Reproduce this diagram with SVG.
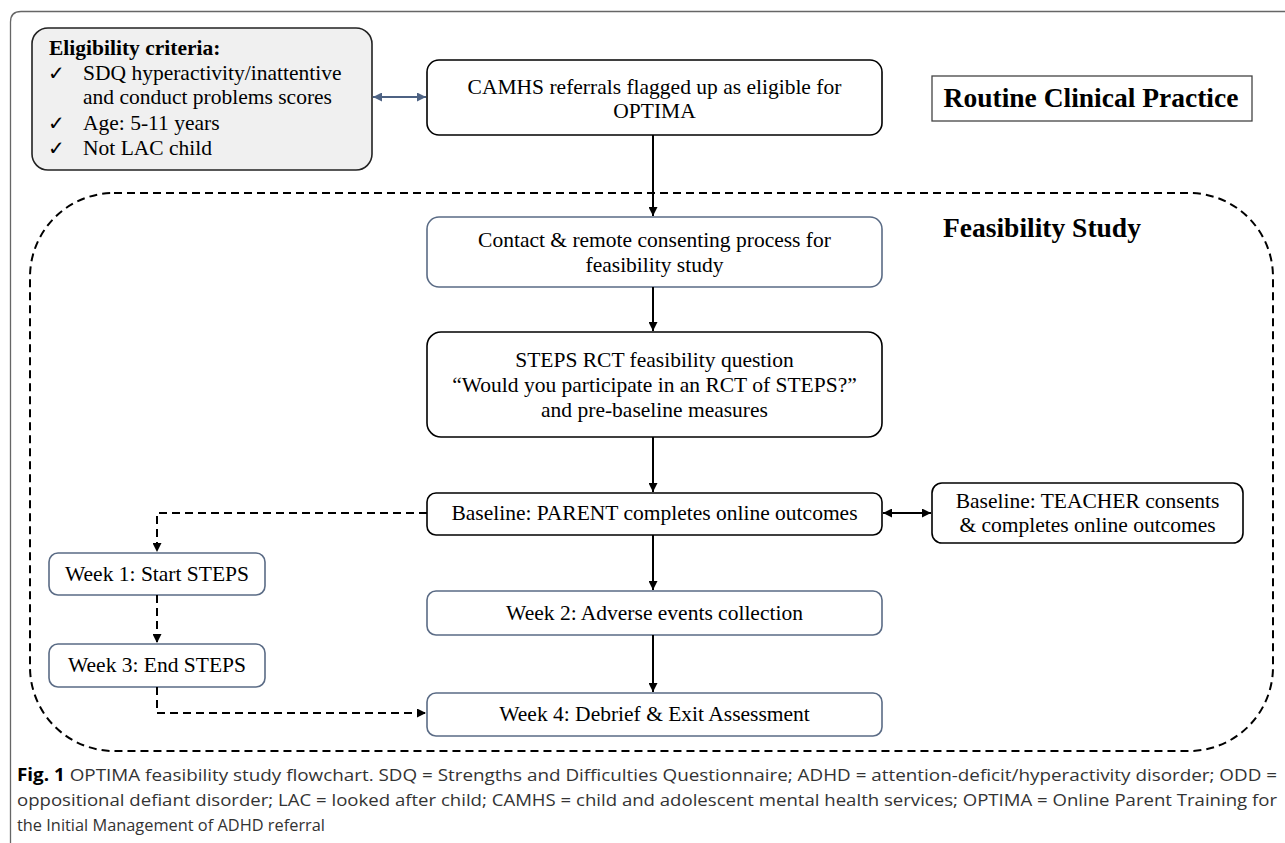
<svg xmlns="http://www.w3.org/2000/svg" width="1285" height="843" viewBox="0 0 1285 843">
<defs>
<marker id="ah" viewBox="0 0 10 10" refX="10" refY="5" markerWidth="9" markerHeight="9" markerUnits="userSpaceOnUse" orient="auto-start-reverse"><path d="M0,0 L10,5 L0,10 Z" fill="#000"/></marker>
<marker id="ahb" viewBox="0 0 10 10" refX="10" refY="5" markerWidth="9" markerHeight="9" markerUnits="userSpaceOnUse" orient="auto-start-reverse"><path d="M0,0 L10,5 L0,10 Z" fill="#4d6283"/></marker>
<style>
.t{font-family:"Liberation Serif","Times New Roman",serif;font-size:21.5px;fill:#000}
.tc{text-anchor:middle}
.b{font-weight:bold}
.h{font-size:27.5px}
.ck{font-family:"DejaVu Sans",sans-serif;font-size:20px}
.bx{fill:#fff;stroke:#000;stroke-width:1.6}
.bs{fill:#fff;stroke:#5a6b85;stroke-width:1.6}
.c{fill:none;stroke:#000;stroke-width:2}
.d{fill:none;stroke:#000;stroke-width:2;stroke-dasharray:8,5}
.cap{font-family:"Open Sans","Noto Sans",sans-serif;font-size:17px;fill:#333}
</style>
</defs>
<path d="M10.5,843 V22 Q10.5,11.5 21,11.5 H1285" fill="none" stroke="#666" stroke-width="1.3"/>
<rect x="30" y="193" width="1243" height="558" rx="84" ry="84" fill="none" stroke="#000" stroke-width="2" stroke-dasharray="8,5"/>

<g id="eligibility">
<rect x="32" y="28" width="340" height="142" rx="16" fill="#f0f0f0" stroke="#222" stroke-width="1.6"/>
<text class="t b" x="49" y="55">Eligibility criteria:</text>
<text class="t ck" x="48" y="80">✓</text>
<text class="t" x="83" y="80">SDQ hyperactivity/inattentive</text>
<text class="t" x="83" y="104">and conduct problems scores</text>
<text class="t ck" x="48" y="130">✓</text>
<text class="t" x="83" y="130">Age: 5-11 years</text>
<text class="t ck" x="48" y="155">✓</text>
<text class="t" x="83" y="155">Not LAC child</text>
</g>

<g id="camhs">
<rect class="bx" x="427" y="60" width="455" height="75" rx="12"/>
<text class="t tc" x="654.5" y="94">CAMHS referrals flagged up as eligible for</text>
<text class="t tc" x="654.5" y="118">OPTIMA</text>
</g>

<g id="routine">
<rect x="932" y="76" width="320" height="45" fill="#fff" stroke="#444" stroke-width="1.3"/>
<text class="t tc b h" x="1091" y="107">Routine Clinical Practice</text>
</g>

<g id="feasibility-label">
<text class="t b h" x="943" y="237">Feasibility Study</text>
</g>

<g id="contact">
<rect class="bs" x="427" y="217" width="455" height="70" rx="12"/>
<text class="t tc" x="654.5" y="247">Contact &amp; remote consenting process for</text>
<text class="t tc" x="654.5" y="272">feasibility study</text>
</g>

<g id="steps-question">
<rect class="bx" x="427" y="332" width="455" height="105" rx="14"/>
<text class="t tc" x="654.5" y="367">STEPS RCT feasibility question</text>
<text class="t tc" x="654.5" y="392">“Would you participate in an RCT of STEPS?”</text>
<text class="t tc" x="654.5" y="417">and pre-baseline measures</text>
</g>

<g id="parent">
<rect class="bx" x="427" y="493" width="455" height="42" rx="9"/>
<text class="t tc" x="654.5" y="520">Baseline: PARENT completes online outcomes</text>
</g>

<g id="teacher">
<rect class="bx" x="932" y="483" width="311" height="60" rx="10"/>
<text class="t tc" x="1087.5" y="508">Baseline: TEACHER consents</text>
<text class="t tc" x="1087.5" y="532">&amp; completes online outcomes</text>
</g>

<g id="week1">
<rect class="bs" x="49" y="553" width="216" height="42" rx="9"/>
<text class="t tc" x="157" y="581">Week 1: Start STEPS</text>
</g>

<g id="week3">
<rect class="bs" x="49" y="644" width="216" height="43" rx="9"/>
<text class="t tc" x="157" y="672">Week 3: End STEPS</text>
</g>

<g id="week2">
<rect class="bs" x="427" y="591" width="455" height="44" rx="9"/>
<text class="t tc" x="654.5" y="620">Week 2: Adverse events collection</text>
</g>

<g id="week4">
<rect class="bs" x="427" y="693" width="455" height="43" rx="9"/>
<text class="t tc" x="654.5" y="721">Week 4: Debrief &amp; Exit Assessment</text>
</g>

<g id="connectors">
<line x1="373" y1="97" x2="426" y2="97" stroke="#4d6283" stroke-width="2" marker-start="url(#ahb)" marker-end="url(#ahb)"/>
<line class="c" x1="653" y1="135" x2="653" y2="216" marker-end="url(#ah)"/>
<line class="c" x1="653" y1="287" x2="653" y2="331" marker-end="url(#ah)"/>
<line class="c" x1="653" y1="437" x2="653" y2="492" marker-end="url(#ah)"/>
<line class="c" x1="653" y1="535" x2="653" y2="590" marker-end="url(#ah)"/>
<line class="c" x1="653" y1="635" x2="653" y2="692" marker-end="url(#ah)"/>
<line class="c" x1="883" y1="513" x2="931" y2="513" marker-start="url(#ah)" marker-end="url(#ah)"/>
<path class="d" d="M427,513 H157 V552" marker-end="url(#ah)"/>
<path class="d" d="M157,595 V643" marker-end="url(#ah)"/>
<path class="d" d="M157,687 V713 H426" marker-end="url(#ah)"/>
</g>

<g id="caption">
<text class="cap" x="17" y="781" textLength="1260" lengthAdjust="spacingAndGlyphs"><tspan font-weight="bold" fill="#000">Fig. 1</tspan>  OPTIMA feasibility study flowchart. SDQ = Strengths and Difficulties Questionnaire; ADHD = attention-deficit/hyperactivity disorder; ODD =</text>
<text class="cap" x="17" y="806" textLength="1260" lengthAdjust="spacingAndGlyphs">oppositional defiant disorder; LAC = looked after child; CAMHS = child and adolescent mental health services; OPTIMA = Online Parent Training for</text>
<text class="cap" x="17" y="831" textLength="308" lengthAdjust="spacingAndGlyphs">the Initial Management of ADHD referral</text>
</g>
</svg>
